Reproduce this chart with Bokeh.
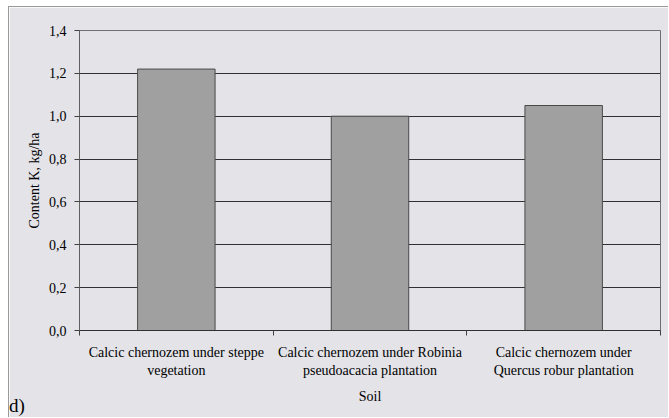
from bokeh.plotting import figure
from bokeh.layouts import column
from bokeh.models import (Range1d, LinearAxis, FixedTicker,
                          CustomJSTickFormatter, Div, ColumnDataSource)
from bokeh.embed import file_html
from bokeh.resources import INLINE

categories = [
    "Calcic chernozem under steppe\nvegetation",
    "Calcic chernozem under Robinia\npseudoacacia plantation",
    "Calcic chernozem under\nQuercus robur plantation",
]
content_k = [1.22, 1.00, 1.05]
y_ticks = [0.0, 0.2, 0.4, 0.6, 0.8, 1.0, 1.2, 1.4]
panel_tag = "d)"

FONT = "Liberation Serif"
BG = "#e3e3e8"

n = len(categories)
centers = [i + 0.5 for i in range(n)]
boundaries = list(range(n + 1))

p = figure(x_range=Range1d(0, n), y_range=Range1d(0, 1.4),
           width=660, height=411, output_backend="svg", toolbar_location=None,
           x_axis_location=None,
           min_border_left=70, min_border_right=9, min_border_top=23, min_border_bottom=88,
           background_fill_color=BG, border_fill_color=BG,
           outline_line_color="#707070", outline_line_width=1)
p.styles = {"margin-left": "8px", "margin-top": "6px",
            "border-top": "1px solid #9a9a9a", "border-left": "1px solid #9a9a9a"}

src = ColumnDataSource(dict(x=centers, cat=categories, val=content_k))
p.vbar(x="x", top="val", width=0.4, source=src, fill_color="#a0a0a0",
       line_color="#4a4a4a", line_width=1)

# y axis
ya = p.yaxis[0]
ya.ticker = FixedTicker(ticks=y_ticks, minor_ticks=[])
ya.formatter = CustomJSTickFormatter(code="return tick.toFixed(1).replace('.', ',');")
ya.major_tick_out = 5
ya.major_tick_in = 0
ya.minor_tick_out = 0
ya.minor_tick_in = 0
ya.axis_line_color = "#606060"
ya.major_tick_line_color = "#404040"
ya.major_label_text_font = FONT
ya.major_label_text_font_size = "14px"
ya.major_label_text_color = "#000000"
ya.major_label_standoff = 8
ya.axis_label = "Content K, kg/ha"
ya.axis_label_text_font = FONT
ya.axis_label_text_font_size = "14px"
ya.axis_label_text_font_style = "normal"
ya.axis_label_text_color = "#000000"
ya.axis_label_standoff = 4

p.ygrid.ticker = FixedTicker(ticks=y_ticks)
p.ygrid.grid_line_color = "#303030"
p.xgrid.grid_line_color = None

# x axis: labels at category centres, tick marks at category boundaries
xa = LinearAxis(ticker=FixedTicker(ticks=centers, minor_ticks=boundaries),
                major_label_overrides={c: lbl for c, lbl in zip(centers, categories)},
                major_tick_out=0, major_tick_in=0, minor_tick_out=5, minor_tick_in=0,
                axis_line_color="#303030", minor_tick_line_color="#404040",
                major_tick_line_color=None,
                major_label_text_font=FONT, major_label_text_font_size="14px",
                major_label_text_color="#000000", major_label_standoff=9,
                axis_label="Soil", axis_label_text_font=FONT,
                axis_label_text_font_size="14px", axis_label_text_font_style="normal",
                axis_label_text_color="#000000", axis_label_standoff=8)
p.add_layout(xa, "below")

tag = Div(text=panel_tag, width=30, height=20,
          styles={"margin-top": "-21px", "margin-left": "9px",
                  "position": "relative", "z-index": "5",
                  "font-family": FONT, "font-size": "19px",
                  "line-height": "19px", "color": "#000000"})

layout = column(p, tag, spacing=0)
open("out.html", "w").write(file_html(layout, INLINE))
